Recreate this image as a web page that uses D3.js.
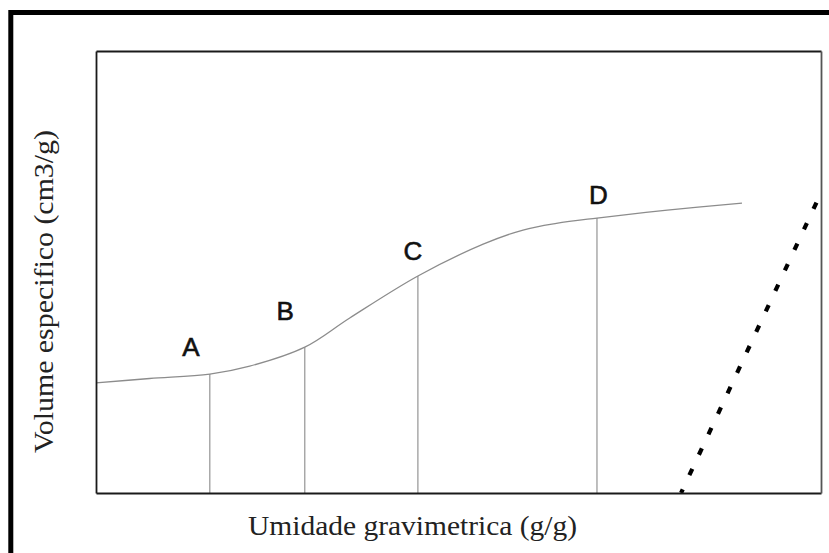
<!DOCTYPE html>
<html>
<head>
<meta charset="utf-8">
<script src="https://cdn.jsdelivr.net/npm/d3@7"></script>
<style>
  html, body { margin: 0; padding: 0; background: #fff; }
  svg { display: block; }
  .serif { font-family: "Liberation Serif", "Times New Roman", serif; }
  .sans { font-family: "Liberation Sans", Arial, sans-serif; }
</style>
</head>
<body>
<svg id="chart" width="829" height="553"></svg>
<script>
// Curve: moisture (arbitrary units 0-100) vs specific volume (arbitrary units 0-100)
const curveX = [0, 7.4, 15.7, 21.2, 28.8, 35.0, 44.4, 53.4, 58.9, 63.5, 69.1, 78.8, 89.1];
const curveY = [24.9, 25.9, 26.9, 28.7, 33.0, 39.6, 49.1, 56.3, 59.5, 61.0, 62.2, 64.0, 65.6];

// Marked points
const pointLabels = ["A", "B", "C", "D"];
const pointX = [15.7, 28.8, 44.4, 69.1];
const pointY = [26.9, 33.0, 49.1, 62.2];
const labelY = [31.1, 39.2, 52.7, 65.4];
const labelX = [13.1, 26.1, 43.7, 69.3];

// Saturation (dotted) line
const satX = [80.7, 100];
const satY = [0, 67.9];

const xTitle = "Umidade gravimetrica (g/g)";
const yTitle = "Volume especifico (cm3/g)";

(function () {
const svg = d3.select("#chart");

// outer black frame (cropped on right/bottom)
svg.append("path")
  .attr("d", "M10.8,560 L10.8,12.5 L840,12.5")
  .attr("fill", "none")
  .attr("stroke", "#000")
  .attr("stroke-width", 5);

const pL = 96, pR = 821, pT = 51, pB = 493;
const x = d3.scaleLinear().domain([0, 100]).range([pL, pR]);
const y = d3.scaleLinear().domain([0, 100]).range([pB, pT]);

svg.append("defs").append("clipPath").attr("id", "plotclip")
  .append("rect").attr("x", pL).attr("y", pT).attr("width", pR - pL).attr("height", pB - pT);

const plot = svg.append("g");

// vertical drop lines
plot.selectAll("line.drop")
  .data(pointX.map((d, i) => ({ x: d, y: pointY[i] })))
  .join("line")
  .attr("class", "drop")
  .attr("x1", d => x(d.x)).attr("x2", d => x(d.x))
  .attr("y1", d => y(d.y)).attr("y2", y(0))
  .attr("stroke", "#8a8a8a")
  .attr("stroke-width", 1.1);

// curve
const line = d3.line().x(d => x(d[0])).y(d => y(d[1])).curve(d3.curveCatmullRom.alpha(0.5));
plot.append("path")
  .datum(curveX.map((d, i) => [d, curveY[i]]))
  .attr("d", line)
  .attr("fill", "none")
  .attr("stroke", "#8c8c8c")
  .attr("stroke-width", 1.3);

// dotted saturation line
plot.append("path")
  .datum(satX.map((d, i) => [d, satY[i]]))
  .attr("d", d3.line().x(d => x(d[0])).y(d => y(d[1])))
  .attr("clip-path", "url(#plotclip)")
  .attr("fill", "none")
  .attr("stroke", "#000")
  .attr("stroke-width", 4.2)
  .attr("stroke-dasharray", "7,15.6")
  .attr("stroke-dashoffset", 3);

// point labels
plot.selectAll("text.pt")
  .data(pointLabels.map((d, i) => ({ t: d, x: labelX[i], y: labelY[i] })))
  .join("text")
  .attr("class", "pt sans")
  .attr("x", d => x(d.x)).attr("y", d => y(d.y))
  .attr("text-anchor", "middle")
  .attr("font-size", 26)
  .attr("fill", "#111")
  .attr("stroke", "#111")
  .attr("stroke-width", 0.6)
  .text(d => d.t);

// frame via axes without ticks
const axStyle = g => g.select(".domain").attr("stroke", "#1a1a1a").attr("stroke-width", 1.8);
svg.append("g").attr("transform", `translate(0,${pB})`)
  .call(d3.axisBottom(x).tickValues([]).tickSizeOuter(0)).call(axStyle);
svg.append("g").attr("transform", `translate(0,${pT})`)
  .call(d3.axisTop(x).tickValues([]).tickSizeOuter(0)).call(axStyle);
svg.append("g").attr("transform", `translate(${pL},0)`)
  .call(d3.axisLeft(y).tickValues([]).tickSizeOuter(0)).call(axStyle);
svg.append("g").attr("transform", `translate(${pR},0)`)
  .call(d3.axisRight(y).tickValues([]).tickSizeOuter(0))
  .call(g => g.select(".domain").attr("stroke", "#555").attr("stroke-width", 1.8));

// axis titles
svg.append("text")
  .attr("class", "serif")
  .attr("x", 412.5).attr("y", 535)
  .attr("text-anchor", "middle")
  .attr("font-size", 27)
  .attr("textLength", 329)
  .attr("lengthAdjust", "spacingAndGlyphs")
  .attr("fill", "#222")
  .text(xTitle);

svg.append("text")
  .attr("class", "serif")
  .attr("transform", "translate(53,291.5) rotate(-90)")
  .attr("text-anchor", "middle")
  .attr("font-size", 28)
  .attr("textLength", 323)
  .attr("lengthAdjust", "spacingAndGlyphs")
  .attr("fill", "#222")
  .text(yTitle);
})();
</script>
</body>
</html>
